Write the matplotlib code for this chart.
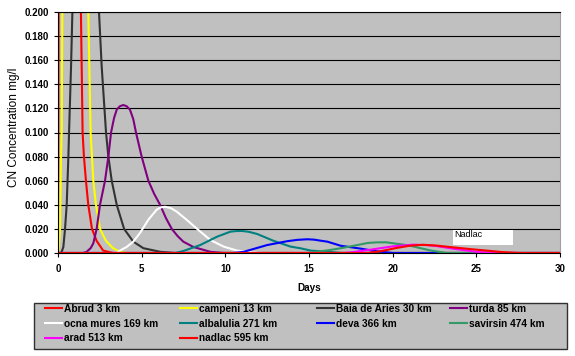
import numpy as np
import matplotlib
matplotlib.use('Agg')
import matplotlib.pyplot as plt
from matplotlib.patches import Rectangle
from matplotlib.lines import Line2D

plt.rcParams['font.family'] = ['Liberation Sans', 'DejaVu Sans']

# CN concentration (mg/l) vs days, one pair of lists per station
abrud_day = [0, 0.02, 0.05, 0.5, 1.25, 1.37, 1.47, 1.55, 1.67, 1.81, 2.03, 2.31, 2.7, 3.3, 30]
abrud_cn = [0, 0.12, 0.3, 0.9, 0.3, 0.2, 0.1, 0.08, 0.06, 0.04, 0.02, 0.01, 0.002, 0, 0]

campeni_day = [0, 0.05, 0.12, 0.18, 0.22, 0.26, 0.32, 0.9, 1.7, 1.81, 1.95, 2.03, 2.11,
               2.27, 2.51, 2.87, 3.29, 3.7, 4.1, 30]
campeni_cn = [0, 0.004, 0.02, 0.08, 0.1, 0.2, 0.35, 0.7, 0.3, 0.2, 0.1, 0.08, 0.06,
              0.04, 0.02, 0.01, 0.004, 0.001, 0, 0]

baia_day = [0, 0.15, 0.22, 0.32, 0.42, 0.52, 0.62, 0.66, 0.78, 0.86, 0.95, 1.6, 2.35, 2.45,
            2.61, 2.87, 3.01, 3.21, 3.51, 3.95, 4.5, 5.1, 6.1, 7.0, 30]
baia_cn = [0, 0, 0.001, 0.005, 0.02, 0.04, 0.08, 0.1, 0.155, 0.2, 0.26, 0.5, 0.26, 0.2,
           0.155, 0.1, 0.08, 0.06, 0.04, 0.02, 0.0094, 0.004, 0.001, 0, 0]

turda_day = [0, 1.5, 1.71, 1.95, 2.11, 2.31, 2.51, 2.81, 3.01, 3.17, 3.35, 3.51, 3.7, 3.9,
             4.1, 4.3, 4.5, 4.66, 5.0, 5.4, 5.75, 6.1, 6.45, 6.8, 7.15, 7.49, 8.09, 9.1, 9.9, 30]
turda_cn = [0, 0, 0.001, 0.004, 0.008, 0.02, 0.04, 0.06, 0.08, 0.1, 0.112, 0.119, 0.1218,
            0.1228, 0.1218, 0.119, 0.111, 0.1, 0.08, 0.06, 0.049, 0.04, 0.029, 0.02, 0.014,
            0.0094, 0.005, 0.001, 0, 0]

ocna_day = [0, 3.5, 3.7, 4.1, 4.5, 4.9, 5.4, 5.9, 6.15, 6.4, 6.75, 7.1, 7.7, 8.4, 9.1, 9.9,
            10.7, 11.3, 12.0, 30]
ocna_cn = [0, 0, 0.002, 0.005, 0.0094, 0.0166, 0.0276, 0.036, 0.0379, 0.0384, 0.0372,
           0.0343, 0.0274, 0.019, 0.0108, 0.0053, 0.002, 0.001, 0, 0]

alba_day = [0, 7.0, 7.5, 8.5, 9.5, 10.3, 10.65, 11.0, 11.4, 11.9, 12.9, 13.9, 14.5, 15.1,
            16.1, 17.0, 30]
alba_cn = [0, 0, 0.0017, 0.0066, 0.0135, 0.0177, 0.0182, 0.0183, 0.0176, 0.0158, 0.0100,
           0.0053, 0.0039, 0.002, 0.001, 0, 0]

deva_day = [0, 10.5, 11.1, 12.5, 13.7, 14.3, 14.9, 15.3, 15.7, 16.1, 16.9, 18.1, 19.05, 20.0, 30]
deva_cn = [0, 0, 0.001, 0.0066, 0.0098, 0.0109, 0.0114, 0.0111, 0.0102, 0.0094, 0.006,
           0.0036, 0.0014, 0, 0]

savirsin_day = [0, 14.8, 15.5, 16.5, 17.5, 18.5, 19.0, 19.6, 20.6, 21.0, 21.6, 22.3, 23.2, 30]
savirsin_cn = [0, 0, 0.001, 0.003, 0.0055, 0.0083, 0.0088, 0.0089, 0.007, 0.0062, 0.0042,
               0.002, 0, 0]

arad_day = [0, 17.0, 17.5, 18.7, 20.0, 21.2, 22.0, 22.6, 23.6, 25.0, 25.8, 30]
arad_cn = [0, 0, 0.0005, 0.0028, 0.0055, 0.0069, 0.0066, 0.0058, 0.0036, 0.001, 0, 0]

nadlac_day = [0, 18.5, 19.3, 20.2, 21.0, 21.8, 22.6, 23.6, 24.6, 25.6, 26.6, 27.6, 30]
nadlac_cn = [0, 0, 0.0015, 0.0041, 0.006, 0.0068, 0.0062, 0.0047, 0.0033, 0.002, 0.0007, 0, 0]

labels = ['Abrud 3 km', 'campeni 13 km', 'Baia de Aries 30 km', 'turda 85 km',
          'ocna mures 169 km', 'albalulia 271 km', 'deva 366 km', 'savirsin 474 km',
          'arad 513 km', 'nadlac 595 km']
colors = ['#FF0000', '#FFFF00', '#333333', '#800080', '#FFFFFF',
          '#008080', '#0000FF', '#339966', '#FF00FF', '#FF0000']

series = [(abrud_day, abrud_cn), (campeni_day, campeni_cn), (baia_day, baia_cn),
          (turda_day, turda_cn), (ocna_day, ocna_cn), (alba_day, alba_cn),
          (deva_day, deva_cn), (savirsin_day, savirsin_cn), (arad_day, arad_cn),
          (nadlac_day, nadlac_cn)]

W, H = 575, 356
fig = plt.figure(figsize=(W / 100, H / 100), dpi=100)
ax = fig.add_axes([58 / W, 1 - 253 / H, 502 / W, 241 / H])
ax.set_facecolor('#C0C0C0')

for (d, c), col, lab in zip(series, colors, labels):
    ax.plot(d, c, color=col, lw=1.5, label=lab, solid_joinstyle='round')

ax.set_xlim(0, 30)
ax.set_ylim(0, 0.2)
ax.set_xticks(np.arange(0, 31, 5))
ax.set_yticks(np.arange(0, 0.2001, 0.02))
ax.yaxis.set_major_formatter(matplotlib.ticker.FormatStrFormatter('%.3f'))
ax.grid(axis='y', color='black', lw=0.8)
ax.set_axisbelow(True)
ax.tick_params(direction='out', length=3, width=0.8, labelsize=7)
ax.tick_params(axis='x', pad=5)
for t in ax.get_xticklabels() + ax.get_yticklabels():
    t.set_fontweight('bold')
for s in ['top', 'left', 'bottom']:
    ax.spines[s].set_color('black')
    ax.spines[s].set_linewidth(0.8)
ax.spines['right'].set_color('#A0A0A0')

ax.set_xlabel('Days', fontsize=7.2, fontweight='bold')
ax.xaxis.set_label_coords(0.5, -0.125)
ax.set_ylabel('CN Concentration mg/l', fontsize=8.5)
ax.yaxis.set_label_coords(-0.075, 0.52)

# white label box over the tail of the curves
ax.add_patch(Rectangle((23.59, 0.0066), 3.6, 0.0125, facecolor='white',
                       edgecolor='none', zorder=3))
ax.text(23.7, 0.0152, 'Nadlac', fontsize=6.5, va='center', ha='left', zorder=4)

# legend frame + 4 columns laid out like the Excel legend
fig.patches.append(Rectangle((34 / W, 1 - 349 / H), 533 / W, 46 / H,
                             transform=fig.transFigure, facecolor='#C0C0C0',
                             edgecolor='#303030', lw=1, zorder=0))
handles = [Line2D([], [], color=c, lw=1.5) for c in colors]
cols = [[0, 4, 8], [1, 5, 9], [2, 6], [3, 7]]
col_x = [45, 180, 317, 450]
for idx, x in zip(cols, col_x):
    fig.legend([handles[i] for i in idx], [labels[i] for i in idx],
               loc='upper left', bbox_to_anchor=(x / W, 1 - 304 / H),
               frameon=False, borderpad=0, borderaxespad=0, handlelength=1.7,
               handletextpad=0.15, labelspacing=0.45,
               prop={'size': 7.3, 'weight': 'bold'})

fig.savefig('out.png', dpi=100)
